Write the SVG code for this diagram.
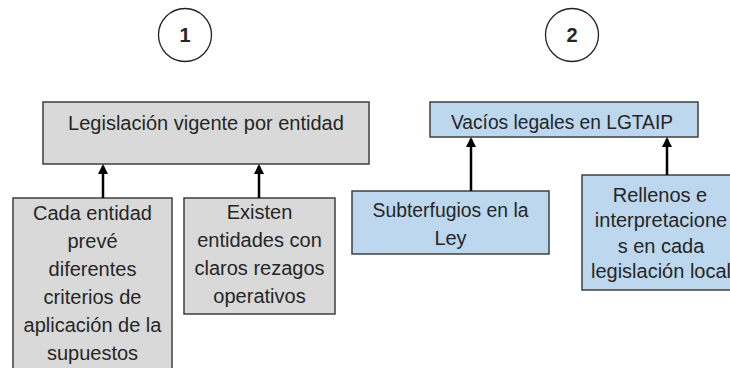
<svg xmlns="http://www.w3.org/2000/svg" width="730" height="368" viewBox="0 0 730 368">
<defs>
<style>
.gray{fill:#d9d9d9;stroke:#3f3f3f;stroke-width:1.5}
.blue{fill:#bdd7ee;stroke:#3f3f3f;stroke-width:1.5}
.circ{fill:#ffffff;stroke:#222;stroke-width:1.3}
text{font-family:"Liberation Sans",Arial,sans-serif;font-size:20px;fill:#262626;text-anchor:middle}
.num{font-weight:bold;font-size:20px}
.conn{stroke:#000;stroke-width:2.5;fill:none;marker-end:url(#ah)}
</style>
<marker id="ah" viewBox="0 0 10 10" refX="8" refY="5" markerWidth="4" markerHeight="4" orient="auto">
<path d="M0,0 L10,5 L0,10 z" fill="#000"/>
</marker>
</defs>
<rect width="730" height="368" fill="#ffffff"/>
<g id="circle1"><circle class="circ" cx="185" cy="35" r="26.5"/><text class="num" x="185" y="42">1</text></g>
<g id="circle2"><circle class="circ" cx="572" cy="35" r="26.5"/><text class="num" x="572" y="42">2</text></g>
<g id="legislacion"><rect class="gray" x="43" y="102" width="326" height="62"/><text x="206" y="130">Legislación vigente por entidad</text></g>
<g id="vacios"><rect class="blue" x="430" y="102" width="268" height="35"/><text x="562" y="129" textLength="222" lengthAdjust="spacingAndGlyphs">Vacíos legales en LGTAIP</text></g>
<g id="cada"><rect class="gray" x="13" y="198" width="159" height="175"/>
<text x="92.5" y="220">Cada entidad</text><text x="92.5" y="248">prevé</text><text x="92.5" y="276">diferentes</text><text x="92.5" y="304">criterios de</text><text x="92.5" y="332">aplicación de la</text><text x="92.5" y="360">supuestos</text></g>
<g id="existen"><rect class="gray" x="184" y="198" width="151" height="116"/>
<text x="259.5" y="219">Existen</text><text x="259.5" y="247">entidades con</text><text x="259.5" y="275">claros rezagos</text><text x="259.5" y="303">operativos</text></g>
<g id="subterfugios"><rect class="blue" x="352" y="191" width="197" height="63"/>
<text x="450.5" y="217" textLength="156" lengthAdjust="spacingAndGlyphs">Subterfugios en la</text><text x="450.5" y="245">Ley</text></g>
<g id="rellenos"><rect class="blue" x="582" y="175" width="160" height="115"/>
<text x="660" y="202">Rellenos e</text><text x="661" y="227">interpretacione</text><text x="661" y="253">s en cada</text><text x="661" y="278">legislación local</text></g>
<g id="connectors">
<line class="conn" x1="103" y1="198" x2="103" y2="166"/>
<line class="conn" x1="259" y1="198" x2="259" y2="166"/>
<line class="conn" x1="471" y1="191" x2="471" y2="139"/>
<line class="conn" x1="667" y1="175" x2="667" y2="139"/>
</g>
</svg>
